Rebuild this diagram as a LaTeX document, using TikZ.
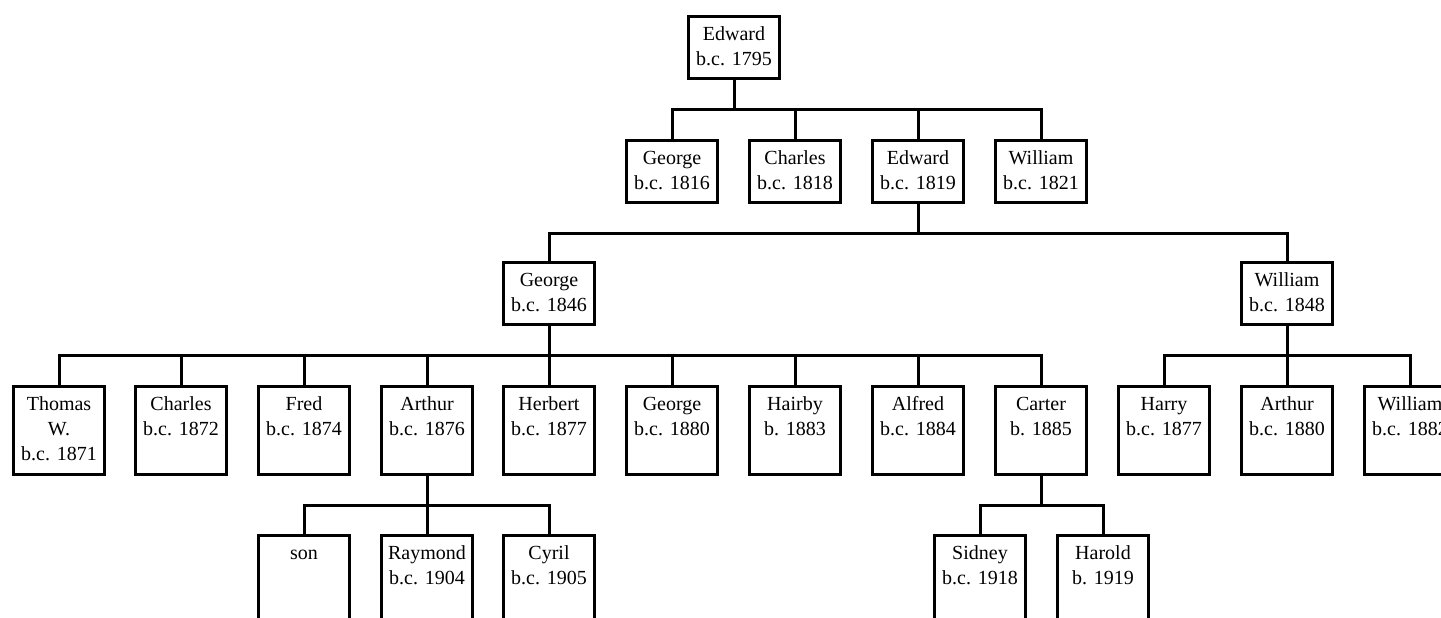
\documentclass[tikz,border=0pt]{standalone}
\usepackage{fontspec}
\setmainfont{Liberation Serif}
\usepackage{tikz}

\newcommand{\who}[2][31pt]{\parbox[c][#1][t]{45.5pt}{\centering\rule{0pt}{12.25pt}#2}}

\begin{document}
\begin{tikzpicture}[x=0.5pt, y=-0.5pt, line width=1.5pt, every node/.style={draw=black, inner sep=0pt, anchor=north, fill=white, font=\fontsize{10pt}{12.5pt}\selectfont}]
			\useasboundingbox (0,0) rectangle (1441,617);
			\clip (0,0) rectangle (1441,617);
			\fill[white] (0,0) rectangle (1441,617);
			
			\node (e0) at (734,14.5){\who{Edward\\b.c. 1795}};
			
			\node (g1) at (672,138.5){\who{George\\b.c. 1816}};
			\node (c1) at (795,138.5){\who{Charles\\b.c. 1818}};
			\node (e1) at (918,138.5){\who{Edward\\b.c. 1819}};
			\node (w1) at (1041,138.5){\who{William\\b.c. 1821}};
			
			\node (g2) at (549,260.5){\who{George\\b.c. 1846}};
			\node (w2) at (1287,260.5){\who{William\\b.c. 1848}};
			
			\node (t3) at (59,384.5){\who[44pt]{Thomas\\W.\\b.c. 1871}};
			\node (c3) at (181,384.5){\who[44pt]{Charles\\b.c. 1872}};
			\node (f3) at (304,384.5){\who[44pt]{Fred\\b.c. 1874}};
			\node (a3) at (427,384.5){\who[44pt]{Arthur\\b.c. 1876}};
			\node (h3) at (549,384.5){\who[44pt]{Herbert\\b.c. 1877}};
			\node (g3) at (672,384.5){\who[44pt]{George\\b.c. 1880}};
			\node (y3) at (795,384.5){\who[44pt]{Hairby\\b. 1883}};
			\node (l3) at (918,384.5){\who[44pt]{Alfred\\b.c. 1884}};
			\node (k3) at (1041,384.5){\who[44pt]{Carter\\b. 1885}};
			\node (r3) at (1164,384.5){\who[44pt]{Harry\\b.c. 1877}};
			\node (b3) at (1287,384.5){\who[44pt]{Arthur\\b.c. 1880}};
			\node (w3) at (1410,384.5){\who[44pt]{William\\b.c. 1882}};
			
			\node (s4) at (304,533.5){\who[44pt]{son}};
			\node (r4) at (427,533.5){\who[44pt]{Raymond\\b.c. 1904}};
			\node (c4) at (549,533.5){\who[44pt]{Cyril\\b.c. 1905}};
			\node (d4) at (980,533.5){\who[44pt]{Sidney\\b.c. 1918}};
			\node (h4) at (1103,533.5){\who[44pt]{Harold\\b. 1919}};
			
			\foreach \k in {g1,c1,e1,w1} \draw (e0.south) -- ++(0,30) -| (\k.north);
			\foreach \k in {g2,w2} \draw (e1.south) -- ++(0,30) -| (\k.north);
			\foreach \k in {t3,c3,f3,a3,h3,g3,y3,l3,k3} \draw (g2.south) -- ++(0,30) -| (\k.north);
			\foreach \k in {r3,b3,w3} \draw (w2.south) -- ++(0,30) -| (\k.north);
			\foreach \k in {s4,r4,c4} \draw (a3.south) -- ++(0,30) -| (\k.north);
			\foreach \k in {d4,h4} \draw (k3.south) -- ++(0,30) -| (\k.north);
			\end{tikzpicture}
\end{document}
